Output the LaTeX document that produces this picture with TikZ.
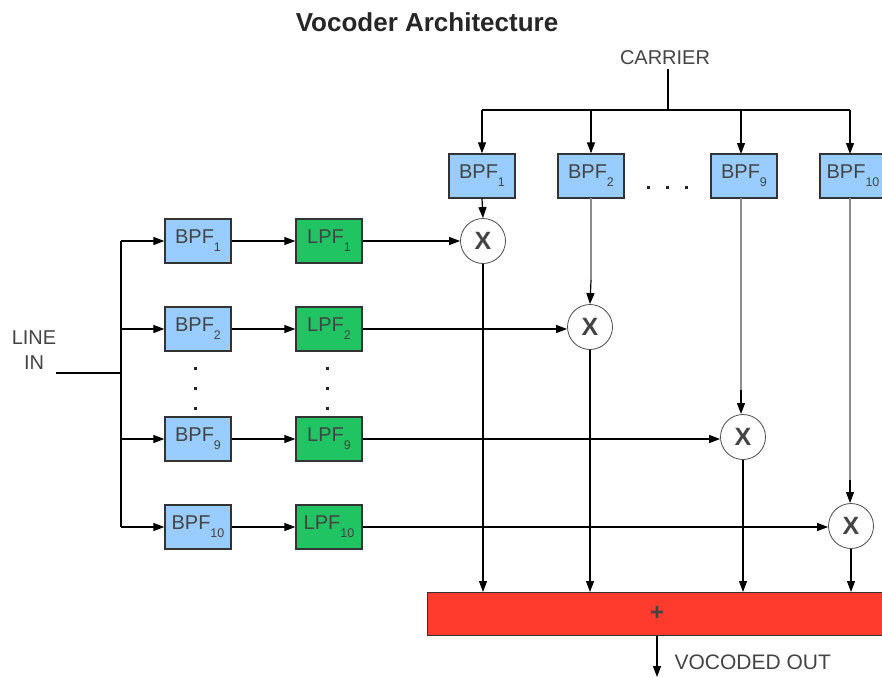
\documentclass[tikz,border=0pt]{standalone}
\usepackage{fontspec}
\setmainfont{Liberation Sans}
\usetikzlibrary{arrows.meta}
\definecolor{bpfblue}{HTML}{99CCFF}
\definecolor{lpfgreen}{HTML}{21C462}
\definecolor{sumred}{HTML}{FF3B2E}
\definecolor{txt}{HTML}{444444}
\definecolor{edge}{HTML}{333333}
\newcommand{\filt}[2]{#1{\fontsize{12.5}{12.5}\selectfont\raisebox{-8pt}{#2}}}
\begin{document}
\begin{tikzpicture}[x=1pt,y=-1pt,
  every node/.style={text=txt,font=\fontsize{20}{22}\selectfont},
  fbox/.style={draw=edge,line width=1.3pt,minimum width=66pt,minimum height=44pt,inner sep=0pt},
  bpfbox/.style={fbox,fill=bpfblue},
  lpfbox/.style={fbox,fill=lpfgreen},
  mult/.style={circle,draw=black!70,line width=0.8pt,minimum size=45pt,inner sep=0pt,fill=white,font=\bfseries\fontsize{25}{25}\selectfont},
  wire/.style={line width=1.2pt,black},
  gwire/.style={line width=1.2pt,black!45},
  arr/.style={-{Triangle[length=11pt,width=8pt]}},
  dot/.style={fill=black!85,inner sep=0pt,minimum size=3pt}
]
\useasboundingbox (0,0) rectangle (882,677);
% title
\node[font=\bfseries\fontsize{26}{30}\selectfont,text=black!85] (title) at (427,22) {Vocoder Architecture};
\node (carrier) at (665,58) {CARRIER};
\node[align=center,font=\fontsize{20}{25}\selectfont] (linein) at (34,350) {LINE\\IN};
% top BPFs
\node[bpfbox] (tb1) at (482,176) {\filt{BPF}{1}};
\node[bpfbox] (tb2) at (591,176) {\filt{BPF}{2}};
\node[bpfbox] (tb9) at (744,176) {\filt{BPF}{9}};
\node[bpfbox] (tb10) at (853,176) {\filt{BPF}{10}};
\node[dot] (hd1) at (648,187) {};
\node[dot] (hd2) at (667,187) {};
\node[dot] (hd3) at (686,187) {};
% left BPFs and LPFs
\foreach \n/\y in {1/241,2/329,9/439,10/527}{
  \node[bpfbox] (b\n) at (198,\y) {\filt{BPF}{\n}};
  \node[lpfbox] (l\n) at (329,\y) {\filt{LPF}{\n}};
}
\node[dot] (vb1) at (195,368) {};
\node[dot] (vb2) at (195,388) {};
\node[dot] (vb3) at (195,408) {};
\node[dot] (vl1) at (327,368) {};
\node[dot] (vl2) at (327,388) {};
\node[dot] (vl3) at (327,408) {};
% multipliers
\node[mult] (m1) at (483,241) {X};
\node[mult] (m2) at (590,327) {X};
\node[mult] (m3) at (743,437) {X};
\node[mult] (m4) at (851,526) {X};
% sum
\node[draw=edge,line width=1.3pt,fill=sumred,minimum width=460pt,minimum height=43pt,inner sep=0pt,anchor=north west] (sum) at (427,592) {};
\node[font=\bfseries\fontsize{24}{24}\selectfont] (plus) at (657,613) {+};
\node[anchor=west,font=\fontsize{21}{22}\selectfont] (out) at (671,662) {VOCODED OUT};
\coordinate (outend) at (657,677);
% carrier distribution
\coordinate (cj) at (668,110);
\coordinate (cl) at (482,110);
\coordinate (cr) at (850,110);
\draw[wire] (carrier.south -| cj) -- (cj);
\draw[wire] (cl) -- (cr);
\draw[wire,arr] (cl) -- (tb1.north);
\draw[wire,arr] (591,110) -- (tb2.north);
\draw[wire,arr] (741,110) -- (741,154);
\draw[wire,arr] (cr) -- (850,154);
% line in
\coordinate (lj) at (121,373);
\draw[wire] (56,373) -- (lj);
\draw[wire] (121,241) -- (121,527);
\foreach \n/\y in {1/241,2/329,9/439,10/527}{
  \draw[wire,arr] (121,\y) -- (b\n.west);
  \draw[wire,arr] (b\n.east) -- (l\n.west);
}
\draw[wire,arr] (l1.east) -- (m1.west);
\draw[wire,arr] (l2.east) -- (l2.east -| m2.west);
\draw[wire,arr] (l9.east) -- (l9.east -| m3.west);
\draw[wire,arr] (l10.east) -- (l10.east -| m4.west);
% carrier filters to multipliers
\draw[wire,arr] (tb1.south) -- (m1.north);
\draw[gwire] (591,198) -- (591,280);
\draw[wire,arr] (591,280) -- (m2.north);
\draw[gwire] (741,198) -- (741,390);
\draw[wire,arr] (741,390) -- (741,414);
\draw[gwire] (850,198) -- (850,480);
\draw[wire,arr] (850,480) -- (850,503);
% multipliers to sum
\draw[wire,arr] (m1.south) -- (m1.south |- sum.north);
\draw[wire,arr] (m2.south) -- (m2.south |- sum.north);
\draw[wire,arr] (m3.south) -- (m3.south |- sum.north);
\draw[wire,arr] (m4.south) -- (m4.south |- sum.north);
\draw[wire,arr] (sum.south -| plus) -- (outend);
\end{tikzpicture}
\end{document}
